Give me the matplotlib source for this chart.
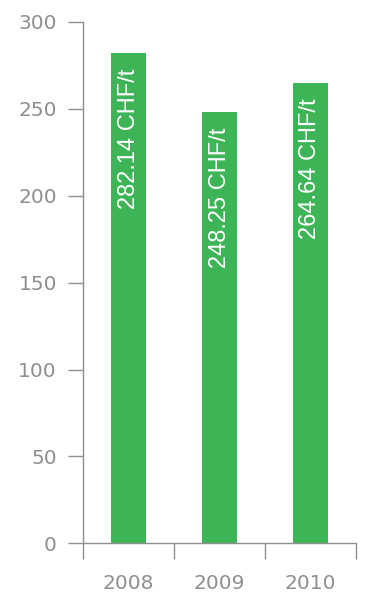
import matplotlib.pyplot as plt

years = ['2008', '2009', '2010']
prices = [282.14, 248.25, 264.64]
labels = ['282.14 CHF/t', '248.25 CHF/t', '264.64 CHF/t']

grey = '#8f8f8f'
green = '#3db556'

plt.rcParams['font.family'] = ['DejaVu Sans']

fig = plt.figure(figsize=(3.65, 5.96), dpi=100)
ax = fig.add_axes([0.228, 0.0884, 0.747, 0.8747])

pos = [i + 0.5 for i in range(len(years))]
ax.bar(pos, prices, width=0.385, color=green, zorder=2)

for x, v, t in zip(pos, prices, labels):
    ax.annotate(t, (x, v), xytext=(0, -11), textcoords='offset points',
                rotation=90, ha='center', va='top', color='white',
                fontsize=17, family='Liberation Sans')

ax.set_xlim(0, 3)
ax.set_ylim(0, 300)
ax.set_yticks(range(0, 301, 50))

# ticks between the categories, labels centred under the bars
ax.set_xticks(range(4))
ax.set_xticklabels([])
ax.set_xticks(pos, minor=True)
ax.set_xticklabels(years, minor=True)

ax.tick_params(axis='y', length=11, width=1, color=grey, labelcolor=grey,
               labelsize=14.5, pad=8)
ax.tick_params(axis='x', which='major', length=11.5, width=1, color=grey)
ax.tick_params(axis='x', which='minor', length=0, labelcolor=grey,
               labelsize=14.5, pad=22)

for s in ['top', 'right']:
    ax.spines[s].set_visible(False)
for s in ['left', 'bottom']:
    ax.spines[s].set_color(grey)
    ax.spines[s].set_linewidth(1)

fig.savefig('out.png', dpi=100)
